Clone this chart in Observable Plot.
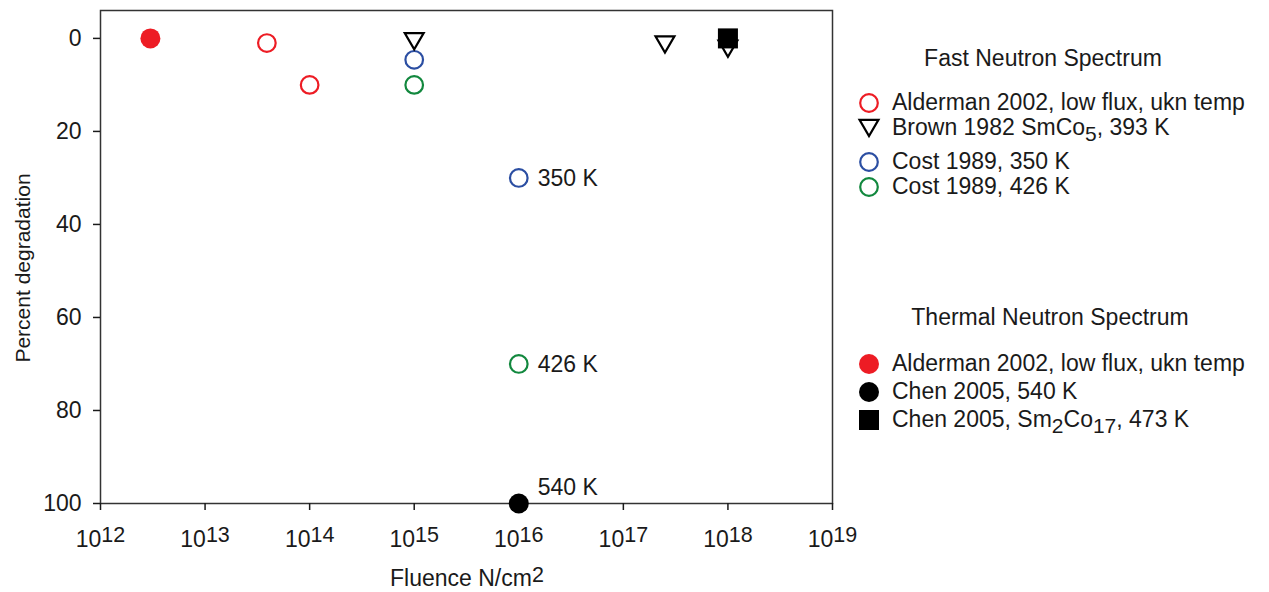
<!DOCTYPE html>
<html>
<head>
<meta charset="utf-8">
<script src="https://cdn.jsdelivr.net/npm/d3@7"></script>
<script src="https://cdn.jsdelivr.net/npm/@observablehq/plot@0.6"></script>
<style>
  body { margin: 0; background: #fff; }
  #chart { position: relative; width: 1269px; height: 592px; }
</style>
</head>
<body>
<div id="chart"></div>
<script>
// ---------- data ----------
const xTicks = [1e12, 1e13, 1e14, 1e15, 1e16, 1e17, 1e18, 1e19];
const yTicks = [0, 20, 40, 60, 80, 100];

// Fast neutron spectrum
const alderFastX = [3.9e13, 1e14];
const alderFastY = [1, 10];
const brownX = [1e15, 2.5e17, 1e18];
const brownY = [0.6, 1.3, 2.2];
const cost350X = [1e15, 1e16];
const cost350Y = [4.6, 30];
const cost426X = [1e15, 1e16];
const cost426Y = [10, 70];

// Thermal neutron spectrum
const alderThermX = [3e12];
const alderThermY = [0];
const chen540X = [1e16];
const chen540Y = [100];
const chenSmX = [1e18];
const chenSmY = [0];

// point annotations
const annotText = ["350 K", "426 K", "540 K"];
const annotX = [1e16, 1e16, 1e16];
const annotY = [30, 70, 100];

const RED = "#ED1C24", BLUE = "#2B4EA2", GREEN = "#12883E", BLACK = "#000";
const FONT = "'Liberation Sans', Arial, Helvetica, sans-serif";
const TXT = "#1a1a1a";

const pts = (xs, ys) => xs.map((x, i) => ({x, y: ys[i]}));

const triangleDown = {
  draw(ctx, size) {
    const r = Math.sqrt(size / Math.PI);
    const w = r * 1.05, h = r * 0.9;
    ctx.moveTo(-w, -h); ctx.lineTo(w, -h); ctx.lineTo(0, h); ctx.closePath();
  }
};

const annots = annotText.map((t, i) => ({t, x: annotX[i], y: annotY[i]}));

const plot = Plot.plot({
  width: 1269,
  height: 592,
  marginLeft: 100,
  marginRight: 437,
  marginTop: 10,
  marginBottom: 89,
  style: {fontFamily: FONT, fontSize: "23px", color: TXT, background: "white", overflow: "visible"},
  x: {type: "log", domain: [1e12, 1e19]},
  y: {domain: [-6, 100], reverse: true},
  marks: [
    Plot.frame({stroke: "#333", strokeWidth: 1.5}),
    Plot.axisX({ticks: xTicks, tickSize: 7, tickPadding: 20, strokeWidth: 1.5,
      tickFormat: d => "10^" + Math.round(Math.log10(d)), label: null}),
    Plot.axisY({ticks: yTicks, tickSize: 7, tickPadding: 12, strokeWidth: 1.5, label: null}),
    Plot.dot(pts(alderFastX, alderFastY), {x: "x", y: "y", r: 8.8, stroke: RED, strokeWidth: 2.2, fill: "none"}),
    Plot.dot(pts(cost350X, cost350Y), {x: "x", y: "y", r: 8.8, stroke: BLUE, strokeWidth: 2.2, fill: "none"}),
    Plot.dot(pts(cost426X, cost426Y), {x: "x", y: "y", r: 8.8, stroke: GREEN, strokeWidth: 2.2, fill: "none"}),
    Plot.dot(pts(brownX, brownY), {x: "x", y: "y", r: 9, symbol: triangleDown, stroke: BLACK, strokeWidth: 2.2, fill: "none"}),
    Plot.dot(pts(alderThermX, alderThermY), {x: "x", y: "y", r: 10, fill: RED, stroke: "none"}),
    Plot.dot(pts(chen540X, chen540Y), {x: "x", y: "y", r: 10, fill: BLACK, stroke: "none"}),
    Plot.dot(pts(chenSmX, chenSmY), {x: "x", y: "y", r: 11.3, symbol: "square", fill: BLACK, stroke: "none"}),
    Plot.text(annots.slice(0, 2), {x: "x", y: "y", text: "t", dx: 19, dy: 1, textAnchor: "start", fill: TXT, fontSize: 23}),
    Plot.text(annots.slice(2), {x: "x", y: "y", text: "t", dx: 19, dy: -16, textAnchor: "start", fill: TXT, fontSize: 23})
  ]
});

document.getElementById("chart").appendChild(plot);
const svg = d3.select(plot);

// superscript exponents on x tick labels
svg.selectAll('g[aria-label="x-axis tick label"] text').each(function() {
  const s = this.textContent;
  const [b, e] = s.split("^");
  const t = d3.select(this);
  t.text(null);
  t.append("tspan").text(b);
  t.append("tspan").attr("dy", -4.5).attr("font-size", 21.5).text(e);
});

// axis titles
svg.append("text")
  .attr("transform", "translate(30,268) rotate(-90)")
  .attr("text-anchor", "middle")
  .attr("font-size", 21)
  .attr("fill", TXT)
  .text("Percent degradation");

const xl = svg.append("text")
  .attr("x", 390).attr("y", 586)
  .attr("text-anchor", "start")
  .attr("font-size", 23)
  .attr("fill", TXT);
xl.append("tspan").text("Fluence N/cm");
xl.append("tspan").attr("dy", -4.5).attr("font-size", 21.5).text("2");

// legend
const lg = svg.append("g").attr("font-size", 23).attr("fill", TXT);
const SX = 869, TX = 892;

function legendText(y, parts) {
  const t = lg.append("text").attr("x", TX).attr("y", y).attr("dy", "0.32em").attr("text-anchor", "start");
  let shift = 0;
  for (const [s, sub] of parts) {
    const target = sub ? 6 : 0;
    const ts = t.append("tspan").text(s);
    if (target !== shift) { ts.attr("dy", target - shift); shift = target; }
    if (sub) ts.attr("font-size", 21);
  }
}
function legendSymbol(y, kind, color) {
  if (kind === "open") lg.append("circle").attr("cx", SX).attr("cy", y).attr("r", 8.8).attr("fill", "none").attr("stroke", color).attr("stroke-width", 2.2);
  else if (kind === "filled") lg.append("circle").attr("cx", SX).attr("cy", y).attr("r", 10).attr("fill", color);
  else if (kind === "tri") lg.append("path").attr("transform", `translate(${SX},${y})`)
    .attr("d", d3.symbol(triangleDown, Math.PI * 81)()).attr("fill", "none").attr("stroke", color).attr("stroke-width", 2.2);
  else if (kind === "square") lg.append("path").attr("transform", `translate(${SX},${y})`)
    .attr("d", d3.symbol(d3.symbolSquare, Math.PI * 11.3 * 11.3)()).attr("fill", color);
}

lg.append("text").attr("x", 1043).attr("y", 66).attr("text-anchor", "middle").text("Fast Neutron Spectrum");
legendSymbol(103, "open", RED);   legendText(103, [["Alderman 2002, low flux, ukn temp"]]);
legendSymbol(128, "tri", BLACK);  legendText(128, [["Brown 1982 SmCo"], ["5", true], [", 393 K"]]);
legendSymbol(162, "open", BLUE);  legendText(162, [["Cost 1989, 350 K"]]);
legendSymbol(187, "open", GREEN); legendText(187, [["Cost 1989, 426 K"]]);

lg.append("text").attr("x", 1050).attr("y", 325).attr("text-anchor", "middle").text("Thermal Neutron Spectrum");
legendSymbol(364, "filled", RED);   legendText(364, [["Alderman 2002, low flux, ukn temp"]]);
legendSymbol(392, "filled", BLACK); legendText(392, [["Chen 2005, 540 K"]]);
legendSymbol(420, "square", BLACK); legendText(420, [["Chen 2005, Sm"], ["2", true], ["Co"], ["17", true], [", 473 K"]]);
</script>
</body>
</html>
